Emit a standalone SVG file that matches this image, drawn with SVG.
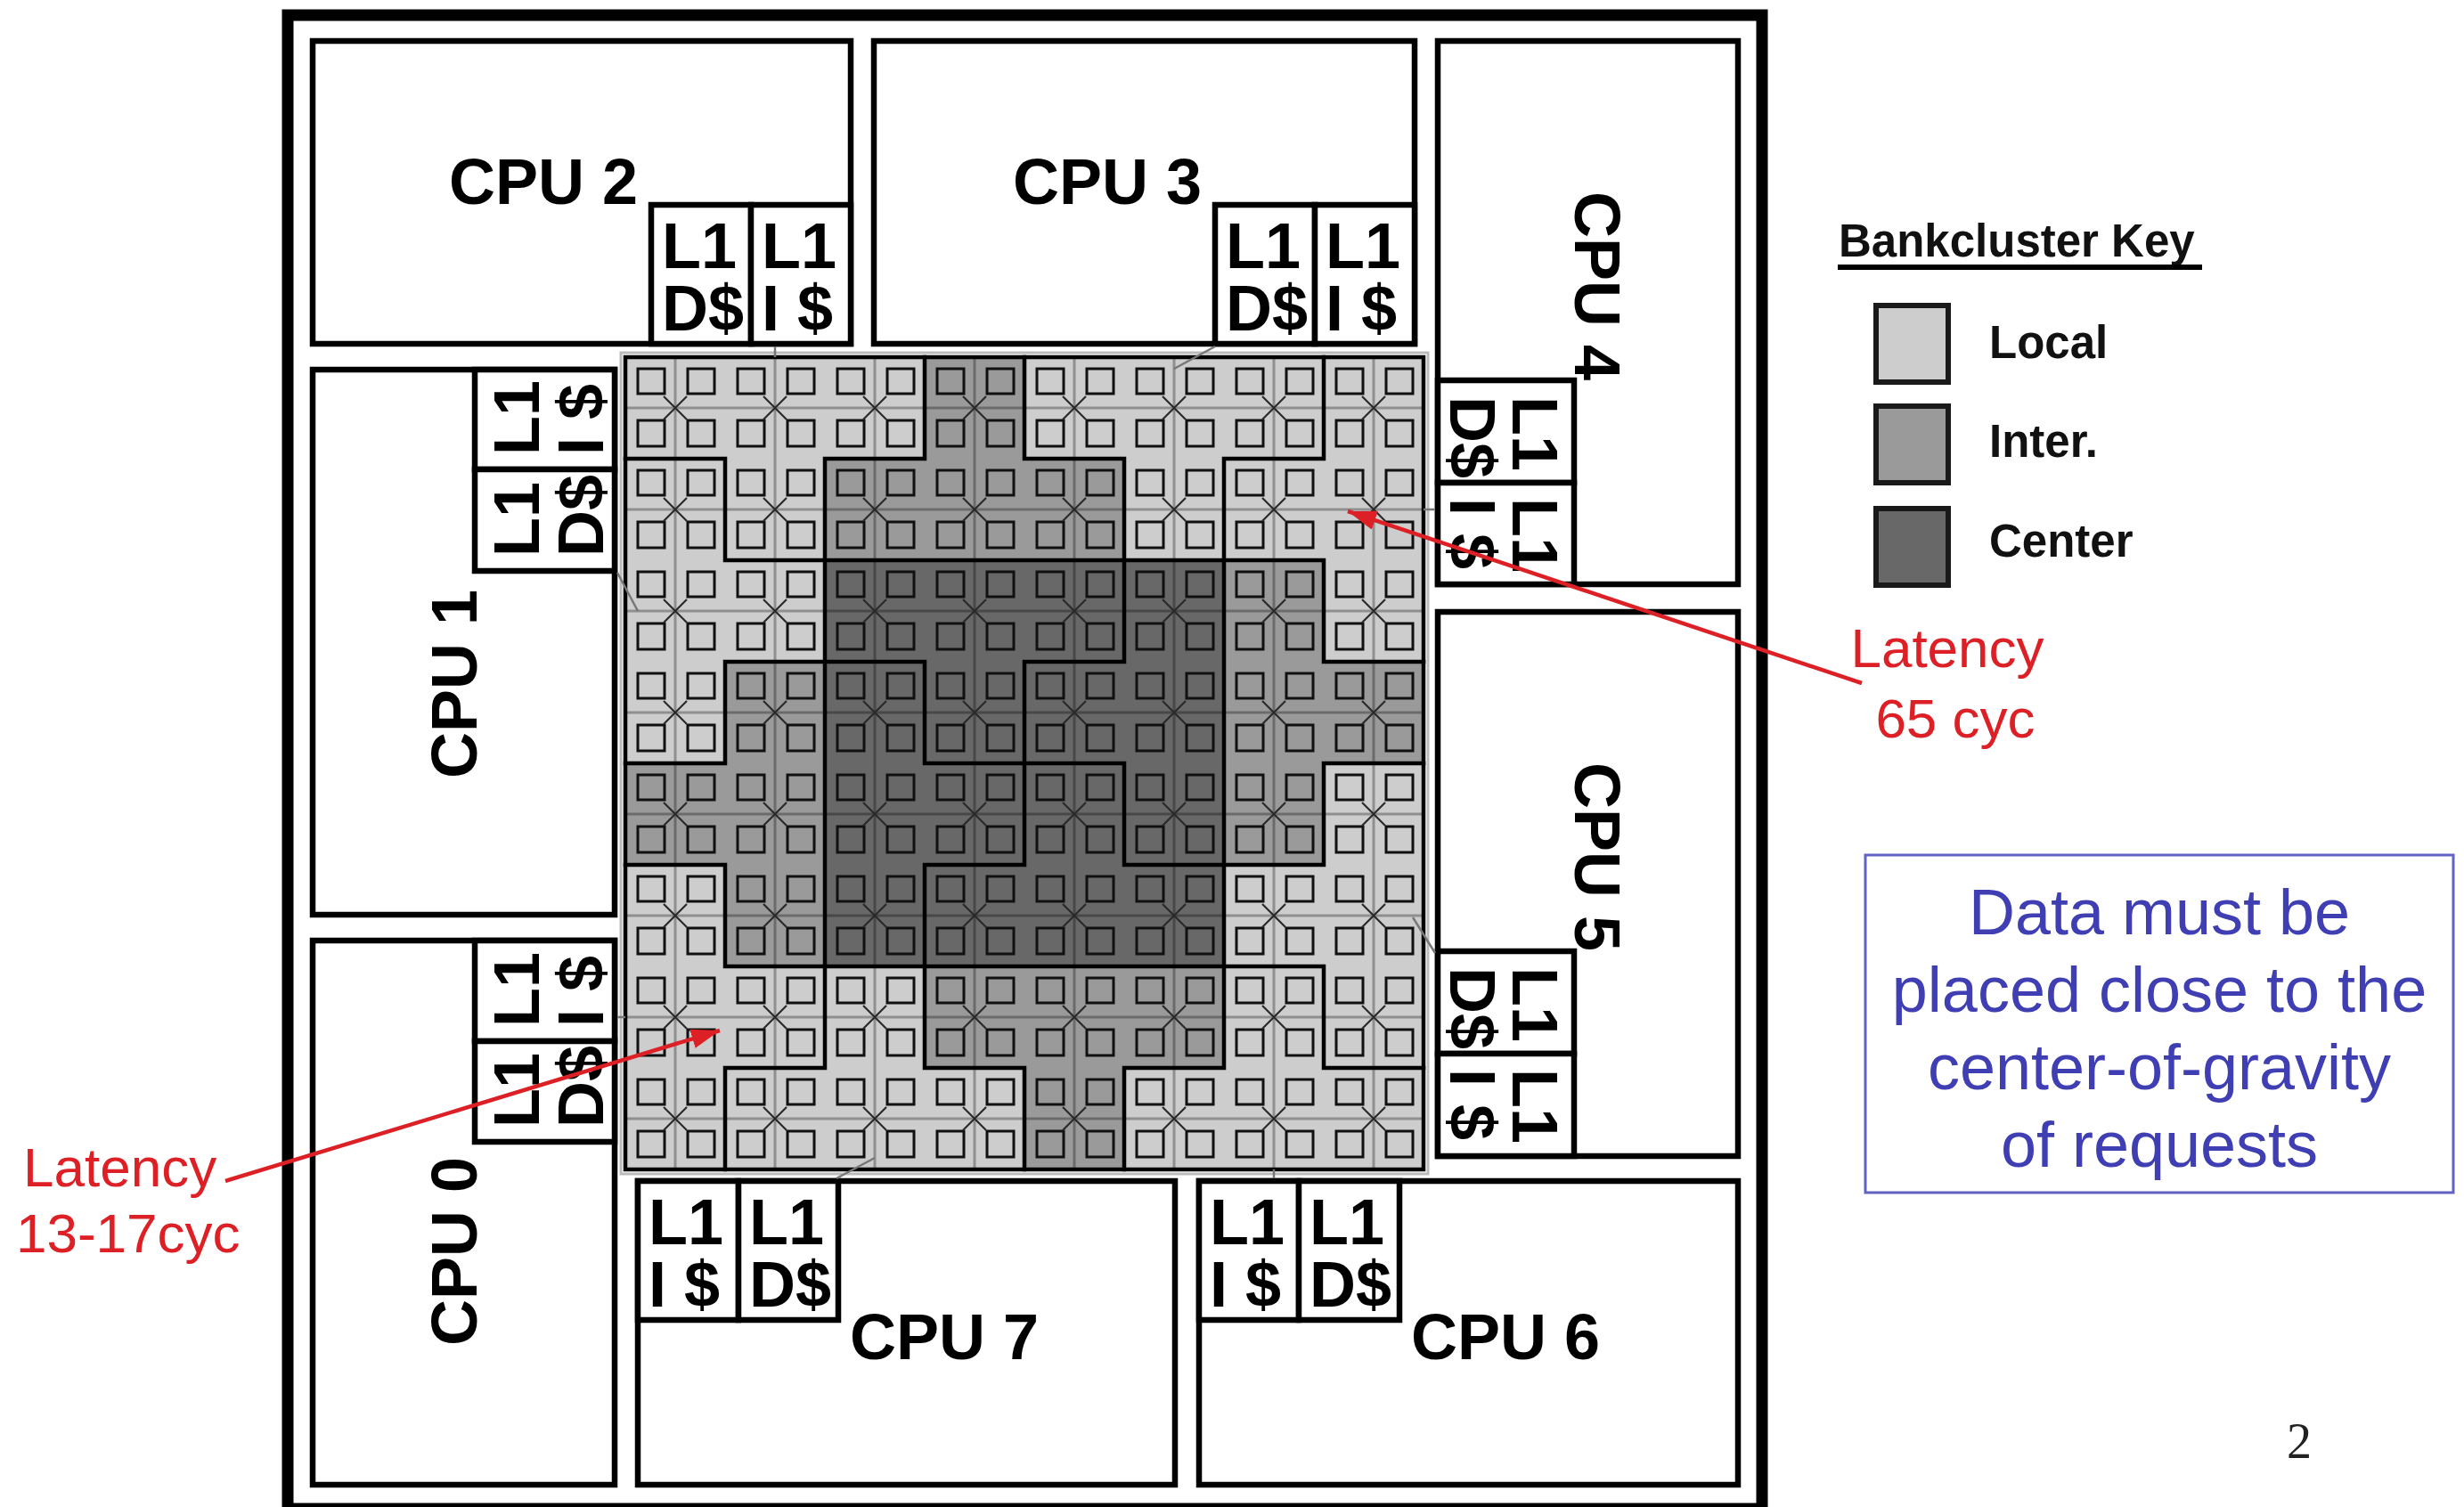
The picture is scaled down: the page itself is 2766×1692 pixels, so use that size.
<svg xmlns="http://www.w3.org/2000/svg" width="2766" height="1692" viewBox="0 0 2766 1692">
<style>
.box{fill:#fff;stroke:#000;stroke-width:6.5}
.cpu{font-family:"Liberation Sans",Arial,sans-serif;font-weight:bold;font-size:72px;fill:#000}
.mid{text-anchor:middle}
.L{fill:#cdcdcd}.M{fill:#9a9a9a}.D{fill:#686868}
.red{font-family:"Liberation Sans",Arial,sans-serif;font-size:62px;fill:#dc2026}
.blue{font-family:"Liberation Sans",Arial,sans-serif;font-size:72px;fill:#3f3fb3;text-anchor:middle}
.key{font-family:"Liberation Sans",Arial,sans-serif;font-weight:bold;font-size:51px;fill:#111}
.conn{stroke:#777;stroke-width:2.5;fill:none}
</style>
<defs>
<g id="bank" fill="none">
<rect x="14" y="13" width="30" height="28" stroke="#111" stroke-width="3"/>
<rect x="70" y="13" width="30" height="28" stroke="#111" stroke-width="3"/>
<rect x="14" y="71" width="30" height="29" stroke="#111" stroke-width="3"/>
<rect x="70" y="71" width="30" height="29" stroke="#111" stroke-width="3"/>
<path d="M43 44L69 70M69 44L43 70" stroke="#2a2a2a" stroke-width="2.2"/>
</g>
<marker id="ah" markerUnits="userSpaceOnUse" markerWidth="34" markerHeight="22" refX="32" refY="11" orient="auto"><path d="M0,0 L32,11 L0,22 z" fill="#dc2026"/></marker>
</defs>
<rect x="0" y="0" width="2766" height="1692" fill="#fff"/>
<rect x="323" y="17" width="1655" height="1677" fill="none" stroke="#000" stroke-width="13"/>

<g id="cpu2">
<rect class="box" x="351" y="46" width="604" height="340"/>
<rect class="box" x="731" y="230" width="112" height="156"/>
<rect class="box" x="843" y="230" width="112" height="156"/>
<text class="cpu mid" x="610" y="229">CPU 2</text>
<text class="cpu"><tspan x="743" y="301">L1</tspan><tspan x="743" y="371">D$</tspan></text>
<text class="cpu"><tspan x="855" y="301">L1</tspan><tspan x="855" y="371">I $</tspan></text>
</g>
<g id="cpu3">
<rect class="box" x="981" y="46" width="607" height="340"/>
<rect class="box" x="1364" y="230" width="112" height="156"/>
<rect class="box" x="1476" y="230" width="112" height="156"/>
<text class="cpu mid" x="1243" y="229">CPU 3</text>
<text class="cpu"><tspan x="1376" y="301">L1</tspan><tspan x="1376" y="371">D$</tspan></text>
<text class="cpu"><tspan x="1488" y="301">L1</tspan><tspan x="1488" y="371">I $</tspan></text>
</g>
<g id="cpu4">
<rect class="box" x="1614" y="46" width="337" height="610"/>
<rect class="box" x="1614" y="427" width="153" height="115"/>
<rect class="box" x="1614" y="542" width="153" height="114"/>
<text class="cpu mid" transform="translate(1768,321) rotate(90)">CPU 4</text>
<text class="cpu" transform="translate(1698,445) rotate(90)"><tspan x="0" y="0">L1</tspan><tspan x="0" y="70">D$</tspan></text>
<text class="cpu" transform="translate(1698,559) rotate(90)"><tspan x="0" y="0">L1</tspan><tspan x="0" y="70">I $</tspan></text>
</g>
<g id="cpu5">
<rect class="box" x="1614" y="687" width="337" height="611"/>
<rect class="box" x="1614" y="1068" width="153" height="115"/>
<rect class="box" x="1614" y="1183" width="153" height="115"/>
<text class="cpu mid" transform="translate(1768,962) rotate(90)">CPU 5</text>
<text class="cpu" transform="translate(1698,1086) rotate(90)"><tspan x="0" y="0">L1</tspan><tspan x="0" y="70">D$</tspan></text>
<text class="cpu" transform="translate(1698,1200) rotate(90)"><tspan x="0" y="0">L1</tspan><tspan x="0" y="70">I $</tspan></text>
</g>
<g id="cpu1">
<rect class="box" x="351" y="415" width="339" height="612"/>
<rect class="box" x="533" y="415" width="157" height="112"/>
<rect class="box" x="533" y="527" width="157" height="114"/>
<text class="cpu mid" transform="translate(535,768) rotate(-90)">CPU 1</text>
<text class="cpu" transform="translate(605,511) rotate(-90)"><tspan x="0" y="0">L1</tspan><tspan x="0" y="72">I $</tspan></text>
<text class="cpu" transform="translate(605,625) rotate(-90)"><tspan x="0" y="0">L1</tspan><tspan x="0" y="72">D$</tspan></text>
</g>
<g id="cpu0">
<rect class="box" x="351" y="1056" width="339" height="611"/>
<rect class="box" x="533" y="1056" width="157" height="113"/>
<rect class="box" x="533" y="1169" width="157" height="113"/>
<text class="cpu mid" transform="translate(535,1405) rotate(-90)">CPU 0</text>
<text class="cpu" transform="translate(605,1153) rotate(-90)"><tspan x="0" y="0">L1</tspan><tspan x="0" y="72">I $</tspan></text>
<text class="cpu" transform="translate(605,1266) rotate(-90)"><tspan x="0" y="0">L1</tspan><tspan x="0" y="72">D$</tspan></text>
</g>
<g id="cpu7">
<rect class="box" x="716" y="1326" width="603" height="341"/>
<rect class="box" x="716" y="1326" width="113" height="156"/>
<rect class="box" x="829" y="1326" width="112" height="156"/>
<text class="cpu mid" x="1060" y="1526">CPU 7</text>
<text class="cpu"><tspan x="728" y="1397">L1</tspan><tspan x="728" y="1467">I $</tspan></text>
<text class="cpu"><tspan x="841" y="1397">L1</tspan><tspan x="841" y="1467">D$</tspan></text>
</g>
<g id="cpu6">
<rect class="box" x="1346" y="1326" width="605" height="341"/>
<rect class="box" x="1346" y="1326" width="112" height="156"/>
<rect class="box" x="1458" y="1326" width="113" height="156"/>
<text class="cpu mid" x="1690" y="1526">CPU 6</text>
<text class="cpu"><tspan x="1358" y="1397">L1</tspan><tspan x="1358" y="1467">I $</tspan></text>
<text class="cpu"><tspan x="1470" y="1397">L1</tspan><tspan x="1470" y="1467">D$</tspan></text>
</g>

<g id="bankclusters">
<rect x="697" y="396" width="906" height="922" fill="none" stroke="#bbb" stroke-width="3"/>
<rect class="L" x="702" y="401" width="896" height="912"/>
<rect class="M" x="1038" y="401" width="112" height="114"/>
<rect class="M" x="926" y="515" width="336" height="114"/>
<rect class="M" x="1374" y="629" width="112" height="114"/>
<rect class="M" x="814" y="743" width="112" height="114"/>
<rect class="M" x="1374" y="743" width="224" height="114"/>
<rect class="M" x="702" y="857" width="224" height="114"/>
<rect class="M" x="1374" y="857" width="112" height="114"/>
<rect class="M" x="814" y="971" width="112" height="114"/>
<rect class="M" x="1038" y="1085" width="336" height="114"/>
<rect class="M" x="1150" y="1199" width="112" height="114"/>
<rect class="D" x="926" y="629" width="448" height="456"/>
<path d="M702 458H1598M702 572H1598M702 686H1598M702 800H1598M702 914H1598M702 1028H1598M702 1142H1598M702 1256H1598M758 401V1313M870 401V1313M982 401V1313M1094 401V1313M1206 401V1313M1318 401V1313M1430 401V1313M1542 401V1313" stroke="#000" stroke-opacity="0.3" stroke-width="3" fill="none"/>
<use href="#bank" x="702" y="401"/><use href="#bank" x="814" y="401"/><use href="#bank" x="926" y="401"/><use href="#bank" x="1038" y="401"/><use href="#bank" x="1150" y="401"/><use href="#bank" x="1262" y="401"/><use href="#bank" x="1374" y="401"/><use href="#bank" x="1486" y="401"/>
<use href="#bank" x="702" y="515"/><use href="#bank" x="814" y="515"/><use href="#bank" x="926" y="515"/><use href="#bank" x="1038" y="515"/><use href="#bank" x="1150" y="515"/><use href="#bank" x="1262" y="515"/><use href="#bank" x="1374" y="515"/><use href="#bank" x="1486" y="515"/>
<use href="#bank" x="702" y="629"/><use href="#bank" x="814" y="629"/><use href="#bank" x="926" y="629"/><use href="#bank" x="1038" y="629"/><use href="#bank" x="1150" y="629"/><use href="#bank" x="1262" y="629"/><use href="#bank" x="1374" y="629"/><use href="#bank" x="1486" y="629"/>
<use href="#bank" x="702" y="743"/><use href="#bank" x="814" y="743"/><use href="#bank" x="926" y="743"/><use href="#bank" x="1038" y="743"/><use href="#bank" x="1150" y="743"/><use href="#bank" x="1262" y="743"/><use href="#bank" x="1374" y="743"/><use href="#bank" x="1486" y="743"/>
<use href="#bank" x="702" y="857"/><use href="#bank" x="814" y="857"/><use href="#bank" x="926" y="857"/><use href="#bank" x="1038" y="857"/><use href="#bank" x="1150" y="857"/><use href="#bank" x="1262" y="857"/><use href="#bank" x="1374" y="857"/><use href="#bank" x="1486" y="857"/>
<use href="#bank" x="702" y="971"/><use href="#bank" x="814" y="971"/><use href="#bank" x="926" y="971"/><use href="#bank" x="1038" y="971"/><use href="#bank" x="1150" y="971"/><use href="#bank" x="1262" y="971"/><use href="#bank" x="1374" y="971"/><use href="#bank" x="1486" y="971"/>
<use href="#bank" x="702" y="1085"/><use href="#bank" x="814" y="1085"/><use href="#bank" x="926" y="1085"/><use href="#bank" x="1038" y="1085"/><use href="#bank" x="1150" y="1085"/><use href="#bank" x="1262" y="1085"/><use href="#bank" x="1374" y="1085"/><use href="#bank" x="1486" y="1085"/>
<use href="#bank" x="702" y="1199"/><use href="#bank" x="814" y="1199"/><use href="#bank" x="926" y="1199"/><use href="#bank" x="1038" y="1199"/><use href="#bank" x="1150" y="1199"/><use href="#bank" x="1262" y="1199"/><use href="#bank" x="1374" y="1199"/><use href="#bank" x="1486" y="1199"/>
<path d="M702 515H814M926 515H1038M1150 515H1262M1374 515H1486M814 629H1486M814 743H1038M1150 743H1262M1486 743H1598M702 857H814M1038 857H1262M1486 857H1598M702 971H814M1038 971H1150M1262 971H1486M814 1085H1486M814 1199H926M1038 1199H1150M1262 1199H1374M1486 1199H1598M814 515V629M814 743V857M814 971V1085M814 1199V1313M926 515V1199M1038 401V515M1038 743V857M1038 971V1199M1150 401V515M1150 743V971M1150 1199V1313M1262 515V743M1262 857V971M1262 1199V1313M1374 515V1199M1486 401V515M1486 629V743M1486 857V971M1486 1085V1199" stroke="#000" stroke-width="4.5" stroke-linecap="square" fill="none"/>
<rect x="702" y="401" width="896" height="912" fill="none" stroke="#000" stroke-width="4.5"/>
</g>

<g id="connectors">
<path class="conn" d="M870 389V401"/>
<path class="conn" d="M1364 389L1318 414"/>
<path class="conn" d="M1611 572H1598"/>
<path class="conn" d="M1611 1070L1586 1030"/>
<path class="conn" d="M1430 1313V1323"/>
<path class="conn" d="M939 1323L982 1300"/>
<path class="conn" d="M693 1142H702"/>
<path class="conn" d="M693 643L716 686"/>
</g>

<g id="legend">
<text class="key" x="2064" y="288">Bankcluster Key</text>
<line x1="2063" y1="300" x2="2472" y2="300" stroke="#000" stroke-width="6"/>
<rect x="2106" y="343" width="81" height="86" fill="#cdcdcd" stroke="#1a1a1a" stroke-width="6"/>
<rect x="2106" y="456" width="81" height="86" fill="#9a9a9a" stroke="#1a1a1a" stroke-width="6"/>
<rect x="2106" y="571" width="81" height="86" fill="#686868" stroke="#1a1a1a" stroke-width="6"/>
<text class="key" x="2233" y="402">Local</text>
<text class="key" x="2233" y="513">Inter.</text>
<text class="key" x="2233" y="625">Center</text>
</g>

<g id="annotations">
<text class="red" text-anchor="middle"><tspan x="2186" y="749">Latency</tspan><tspan x="2195" y="828">65 cyc</tspan></text>
<line x1="2090" y1="767" x2="1513" y2="574" stroke="#dc2026" stroke-width="4.5" marker-end="url(#ah)"/>
<text class="red"><tspan x="26" y="1332">Latency</tspan><tspan x="18" y="1406">13-17cyc</tspan></text>
<line x1="253" y1="1326" x2="808" y2="1157" stroke="#dc2026" stroke-width="4.5" marker-end="url(#ah)"/>
</g>

<g id="note">
<rect x="2094" y="960" width="660" height="379" fill="#fff" stroke="#6262c4" stroke-width="3"/>
<text class="blue"><tspan x="2424" y="1049">Data must be</tspan><tspan x="2424" y="1136">placed close to the</tspan><tspan x="2424" y="1223">center-of-gravity</tspan><tspan x="2424" y="1310">of requests</tspan></text>
</g>
<text x="2581" y="1637" text-anchor="middle" font-family="'Liberation Serif',serif" font-size="56" fill="#222">2</text>
</svg>
